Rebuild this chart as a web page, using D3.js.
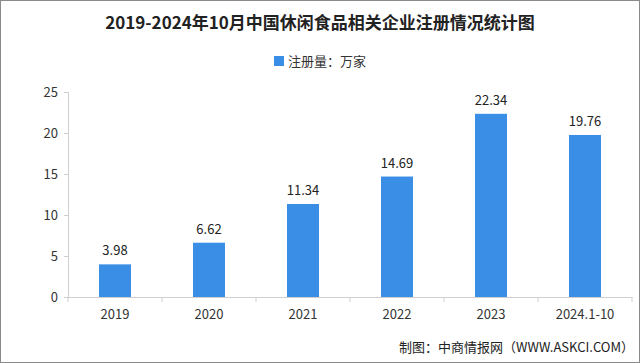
<!DOCTYPE html>
<html><head><meta charset="utf-8">
<script src="https://cdn.jsdelivr.net/npm/d3@7"></script>
<style>body{margin:0;background:#fff}svg{display:block}</style>
</head><body>
<svg id="c" width="640" height="363"></svg>
<script>
const categories = ["2019","2020","2021","2022","2023","2024.1-10"];
const values = [3.98,6.62,11.34,14.69,22.34,19.76];
const yTicks = [0,5,10,15,20,25];
const title = "2019-2024年10月中国休闲食品相关企业注册情况统计图";
const legendLabel = "注册量：万家";
const source = "制图：中商情报网（WWW.ASKCI.COM）";

const svg = d3.select("#c");
const W = 640, H = 363;
const font = "'Noto Sans CJK SC', 'DejaVu Sans', sans-serif";
svg.append("rect").attr("x",0.5).attr("y",0.5).attr("width",W-1).attr("height",H-1)
  .attr("fill","#fff").attr("stroke","#8a8a8a");

const m = {l:68, r:8, t:92, b:66};
const x = d3.scaleBand().domain(categories).range([m.l, W-m.r]).paddingInner(0.66).paddingOuter(0.33);
const y = d3.scaleLinear().domain([0,25]).range([H-m.b, m.t]);

svg.append("text").attr("x",320).attr("y",29).attr("text-anchor","middle")
  .attr("font-family",font).attr("font-weight","bold").attr("font-size",17).attr("fill","#222").text(title);

const lg = svg.append("g");
lg.append("rect").attr("x",274).attr("y",56).attr("width",10).attr("height",10).attr("fill","#3a8ee6");
lg.append("text").attr("x",288).attr("y",65.5).attr("font-family",font).attr("font-size",13).attr("fill","#333").text(legendLabel);

const ya = svg.append("g").attr("transform",`translate(${m.l},0)`)
  .call(d3.axisLeft(y).tickValues(yTicks).tickSize(4).tickPadding(6));
ya.select(".domain").attr("stroke","#cfcfcf");
ya.selectAll(".tick line").attr("stroke","#cfcfcf");
ya.selectAll("text").attr("font-family",font).attr("font-size",13).attr("fill","#333");

const xa = svg.append("g").attr("transform",`translate(0,${y(0)})`)
  .call(d3.axisBottom(x).tickSize(0).tickPadding(13));
xa.select(".domain").attr("stroke","#cfcfcf");
xa.selectAll("text").attr("font-family",font).attr("font-size",13).attr("fill","#333");
const step = x.step();
const bounds = categories.map(c => x(c) - (step - x.bandwidth())/2).concat([W-m.r]);
svg.append("g").selectAll("line").data(bounds).join("line")
  .attr("x1",d=>d).attr("x2",d=>d).attr("y1",y(0)).attr("y2",y(0)+5).attr("stroke","#cfcfcf");

svg.append("g").selectAll("rect").data(values).join("rect")
  .attr("x",(d,i)=>x(categories[i])).attr("width",x.bandwidth())
  .attr("y",d=>y(d)).attr("height",d=>y(0)-y(d)).attr("fill","#3a8ee6");

svg.append("g").selectAll("text").data(values).join("text")
  .attr("x",(d,i)=>x(categories[i])+x.bandwidth()/2).attr("y",d=>y(d)-9)
  .attr("text-anchor","middle").attr("font-family",font).attr("font-size",13).attr("fill","#222")
  .text(d=>d.toFixed(2));

svg.append("text").attr("x",634).attr("y",352).attr("text-anchor","end")
  .attr("font-family",font).attr("font-size",13).attr("fill","#222").text(source);
</script>
</body></html>
